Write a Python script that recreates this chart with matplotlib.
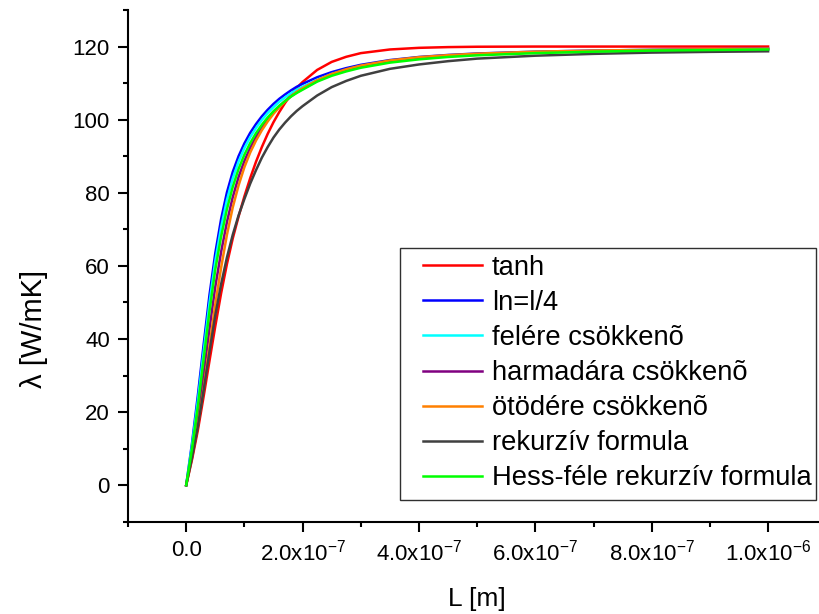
import numpy as np
import matplotlib
matplotlib.use("Agg")
import matplotlib.pyplot as plt
from matplotlib.patches import Rectangle
from matplotlib.ticker import MultipleLocator, FixedLocator

plt.rcParams['font.family'] = ['Liberation Sans', 'DejaVu Sans']
plt.rcParams['mathtext.fontset'] = 'custom'
plt.rcParams['mathtext.rm'] = 'Liberation Sans'
plt.rcParams['mathtext.it'] = 'Liberation Sans:italic'

# L in units of 1e-7 m
L_e7 = [0, 0.1, 0.2, 0.3, 0.4, 0.5, 0.6, 0.7, 0.8, 0.9, 1.0,
        1.1, 1.2, 1.3, 1.4, 1.5, 1.6, 1.7, 1.8, 1.9, 2.0,
        2.25, 2.5, 2.75, 3.0, 3.5, 4.0, 4.5, 5.0, 6.0, 7.0, 8.0, 9.0, 10.0]

tanh_y = [0, 7, 15, 24.3, 34, 43.5, 52.5, 60.5, 67.5, 73.5, 79,
          84, 88.5, 92.5, 96.1, 99.3, 102.1, 104.6, 106.8, 108.7, 110.3,
          113.6, 115.8, 117.2, 118.2, 119.2, 119.65, 119.85, 119.95, 120, 120, 120, 120, 120]
ln4_y = [0, 11.5, 24.5, 38.5, 52, 63.5, 72.8, 80.1, 85.7, 90.0, 93.5,
         96.4, 98.8, 100.9, 102.7, 104.3, 105.7, 106.9, 108.0, 109.0, 109.8,
         111.6, 113.0, 114.1, 115.0, 116.3, 117.15, 117.7, 118.1, 118.6, 118.9, 119.1, 119.25, 119.4]
felere_y = [0, 10.8, 23, 36.5, 49.8, 61.3, 70.5, 78.0, 83.9, 88.5, 92.2,
            95.2, 97.7, 99.9, 101.8, 103.4, 104.9, 106.1, 107.2, 108.2, 109.0,
            110.9, 112.5, 113.6, 114.6, 115.9, 116.8, 117.4, 117.85, 118.4, 118.75, 119.0, 119.15, 119.3]
harmadara_y = [0, 9, 19, 30.5, 42.8, 54.3, 63.8, 72.0, 78.8, 84.3, 88.7,
               92.3, 95.3, 97.9, 100.1, 102.0, 103.6, 105.1, 106.4, 107.5, 108.4,
               110.6, 112.3, 113.5, 114.5, 115.9, 116.8, 117.4, 117.85, 118.4, 118.75, 119.0, 119.15, 119.3]
otodere_y = [0, 8, 16.5, 26.5, 38, 49.5, 59.5, 68.5, 76.0, 82.0, 87.0,
             91.0, 94.3, 97.1, 99.5, 101.6, 103.4, 105.0, 106.4, 107.6, 108.6,
             110.8, 112.5, 113.8, 114.8, 116.2, 117.1, 117.65, 118.05, 118.6, 118.9, 119.1, 119.25, 119.4]
rekurziv_y = [0, 7.5, 16, 26, 36.5, 46.5, 55, 62.3, 68.5, 73.8, 78.3,
              82.5, 86.2, 89.6, 92.5, 95.1, 97.3, 99.2, 100.9, 102.4, 103.7,
              106.6, 108.9, 110.6, 112.0, 113.9, 115.1, 116.0, 116.7, 117.5, 118.0, 118.35, 118.55, 118.7]
hess_y = [0, 10, 21.5, 34.5, 47.5, 59, 68, 75.5, 81.6, 86.5, 90.4,
          93.6, 96.3, 98.6, 100.6, 102.3, 103.8, 105.1, 106.3, 107.3, 108.2,
          110.4, 112.0, 113.2, 114.2, 115.6, 116.5, 117.15, 117.6, 118.2, 118.6, 118.9, 119.05, 119.2]

labels = ['tanh', 'ln=l/4', 'felére csökkenõ', 'harmadára csökkenõ',
          'ötödére csökkenõ', 'rekurzív formula', 'Hess-féle rekurzív formula']
colors = ['#ff0000', '#0000ff', '#00ffff', '#800080', '#ff8000', '#404040', '#00ff00']
series = [tanh_y, ln4_y, felere_y, harmadara_y, otodere_y, rekurziv_y, hess_y]

x_ticks = [0, 2e-7, 4e-7, 6e-7, 8e-7, 1e-6]
x_ticklabels = ['0.0', r'2.0x10$^{-7}$', r'4.0x10$^{-7}$', r'6.0x10$^{-7}$',
                r'8.0x10$^{-7}$', r'1.0x10$^{-6}$']

L = np.array(L_e7) * 1e-7

fig = plt.figure(figsize=(8.19, 6.14), dpi=100)
ax = fig.add_axes([0.1563, 0.1503, 0.8437, 0.8334])

for y, c, lab in zip(series, colors, labels):
    ax.plot(L, y, color=c, lw=1.8, label=lab, solid_joinstyle='round')

ax.set_xlim(-1e-7, 1.0875e-6)
ax.set_ylim(-10, 130)

for s in ['top', 'right']:
    ax.spines[s].set_visible(False)
for s in ['left', 'bottom']:
    ax.spines[s].set_linewidth(1.5)

ax.xaxis.set_major_locator(FixedLocator(x_ticks))
ax.set_xticklabels(x_ticklabels)
ax.xaxis.set_minor_locator(MultipleLocator(1e-7))
ax.yaxis.set_major_locator(MultipleLocator(20))
ax.yaxis.set_minor_locator(MultipleLocator(10))
ax.tick_params(which='major', direction='out', length=7, width=1.5, labelsize=16, pad=6)
ax.tick_params(which='minor', direction='out', length=3.5, width=1.5)

ax.set_xlabel('L [m]', fontsize=19)
ax.set_ylabel('λ [W/mK]', fontsize=21)
ax.xaxis.set_label_coords(0.505, -0.128)
ax.yaxis.set_label_coords(-0.116, 0.376)

# legend box drawn separately (Origin style: wider left margin)
box = Rectangle((400 / 819, 1 - 500 / 614), 416 / 819, 252 / 614,
                transform=fig.transFigure, facecolor='white',
                edgecolor='#303030', lw=1.0, zorder=5, clip_on=False)
ax.add_patch(box)

leg = ax.legend(loc='upper left', bbox_to_anchor=(423 / 819, 1 - 255 / 614),
                bbox_transform=fig.transFigure, borderaxespad=0, borderpad=0,
                fontsize=19.7, frameon=False, handlelength=2.15,
                handletextpad=0.37, labelspacing=0.33)
leg.set_zorder(6)

fig.savefig('out.png', dpi=100)
